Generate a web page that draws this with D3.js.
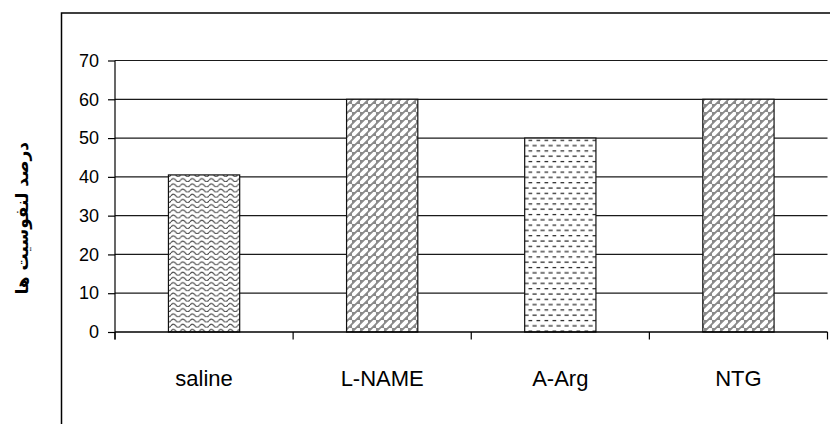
<!DOCTYPE html>
<html>
<head>
<meta charset="utf-8">
<script src="https://cdn.jsdelivr.net/npm/d3@7"></script>
<style>
  html, body { margin: 0; padding: 0; background: #fff; }
  svg { display: block; }
</style>
</head>
<body>
<svg id="chart" width="830" height="424"></svg>
<script>
// ---- data ----
const categories = ["saline", "L-NAME", "A-Arg", "NTG"];
const values = [40.5, 60, 50, 60];
const patternIds = ["wave", "brick", "dash", "brick"];
const yTicks = [0, 10, 20, 30, 40, 50, 60, 70];
const yLabel = "درصد لنفوسیت ها";

// ---- layout ----
const plot = { left: 115, right: 827.5, top: 60.5, bottom: 332 };

const svg = d3.select("#chart");
const defs = svg.append("defs");

// wave pattern (saline)
const pw = defs.append("pattern").attr("id", "wave").attr("patternUnits", "userSpaceOnUse")
  .attr("width", 9.5).attr("height", 5.2);
pw.append("rect").attr("width", 9.5).attr("height", 5.2).attr("fill", "#fff");
pw.append("path").attr("d", "M0,3.4 Q2.375,0.2 4.75,3.4 T9.5,3.4")
  .attr("fill", "none").attr("stroke", "#444").attr("stroke-width", 1.1);

// diagonal brick pattern (L-NAME, NTG)
const pb = defs.append("pattern").attr("id", "brick").attr("patternUnits", "userSpaceOnUse")
  .attr("width", 8).attr("height", 8);
pb.append("rect").attr("width", 8).attr("height", 8).attr("fill", "#8a8a8a");
pb.append("path").attr("d", "M1.6,6.4 L6.4,1.6")
  .attr("fill", "none").attr("stroke", "#fff").attr("stroke-width", 3.9)
  .attr("stroke-linecap", "round");

// dash pattern (A-Arg)
const pd = defs.append("pattern").attr("id", "dash").attr("patternUnits", "userSpaceOnUse")
  .attr("width", 8).attr("height", 10.6);
pd.append("rect").attr("width", 8).attr("height", 10.6).attr("fill", "#fff");
pd.append("path").attr("d", "M0.5,2.5 L4.2,2.5 M4.5,7.8 L8,7.8 M0,7.8 L0.7,7.8")
  .attr("fill", "none").attr("stroke", "#222").attr("stroke-width", 1.2);

// outer frame
svg.append("rect").attr("x", 61.5).attr("y", 13).attr("width", 900).attr("height", 600)
  .attr("fill", "none").attr("stroke", "#000").attr("stroke-width", 1.5);

// scales
const x = d3.scaleBand().domain(categories).range([plot.left, plot.right])
  .paddingInner(0.6).paddingOuter(0.3);
const y = d3.scaleLinear().domain([0, 70]).range([plot.bottom, plot.top]);

// gridlines
svg.append("g").selectAll("line").data(yTicks.filter(d => d > 0)).join("line")
  .attr("x1", plot.left).attr("x2", plot.right)
  .attr("y1", d => y(d)).attr("y2", d => y(d))
  .attr("stroke", "#1a1a1a").attr("stroke-width", 1.2);

// bars
svg.append("g").selectAll("rect").data(categories).join("rect")
  .attr("x", d => x(d))
  .attr("y", (d, i) => y(values[i]))
  .attr("width", x.bandwidth())
  .attr("height", (d, i) => y(0) - y(values[i]))
  .attr("fill", (d, i) => `url(#${patternIds[i]})`)
  .attr("stroke", "#111").attr("stroke-width", 1.2);

// y axis
const yAxis = svg.append("g").attr("transform", `translate(${plot.left},0)`)
  .call(d3.axisLeft(y).tickValues(yTicks).tickSize(7).tickPadding(9).tickFormat(d3.format("d")));
yAxis.select(".domain").remove();
yAxis.append("line").attr("x1", 0).attr("x2", 0).attr("y1", plot.top).attr("y2", plot.bottom + 7.5)
  .attr("stroke", "#000").attr("stroke-width", 1.2);
yAxis.selectAll(".tick line").attr("stroke", "#000").attr("stroke-width", 1.2);
yAxis.selectAll(".tick text").attr("font-family", "'Liberation Sans', Arial, sans-serif")
  .attr("font-size", 18).attr("fill", "#000");

// x axis line at 0
svg.append("line").attr("x1", plot.left).attr("x2", plot.right)
  .attr("y1", y(0)).attr("y2", y(0)).attr("stroke", "#000").attr("stroke-width", 1.3);

// category boundary ticks
const step = x.step();
const boundaries = d3.range(categories.length + 1).map(i => plot.left + i * step);
svg.append("g").selectAll("line").data(boundaries).join("line")
  .attr("x1", d => d).attr("x2", d => d)
  .attr("y1", y(0)).attr("y2", y(0) + 7.5)
  .attr("stroke", "#000").attr("stroke-width", 1.2);

// category labels
svg.append("g").selectAll("text").data(categories).join("text")
  .attr("x", d => x(d) + x.bandwidth() / 2)
  .attr("y", 386)
  .attr("text-anchor", "middle")
  .attr("font-family", "'Liberation Sans', Arial, sans-serif")
  .attr("font-size", 22).attr("fill", "#000")
  .text(d => d);

// y label (rotated)
svg.append("text")
  .attr("transform", `translate(22,${(plot.top + plot.bottom) / 2 + 22}) rotate(-90)`)
  .attr("text-anchor", "middle")
  .attr("dominant-baseline", "central")
  .attr("font-family", "'DejaVu Sans', sans-serif")
  .attr("font-weight", "bold")
  .attr("font-size", 17)
  .attr("direction", "rtl")
  .attr("fill", "#000")
  .text(yLabel);
</script>
</body>
</html>
